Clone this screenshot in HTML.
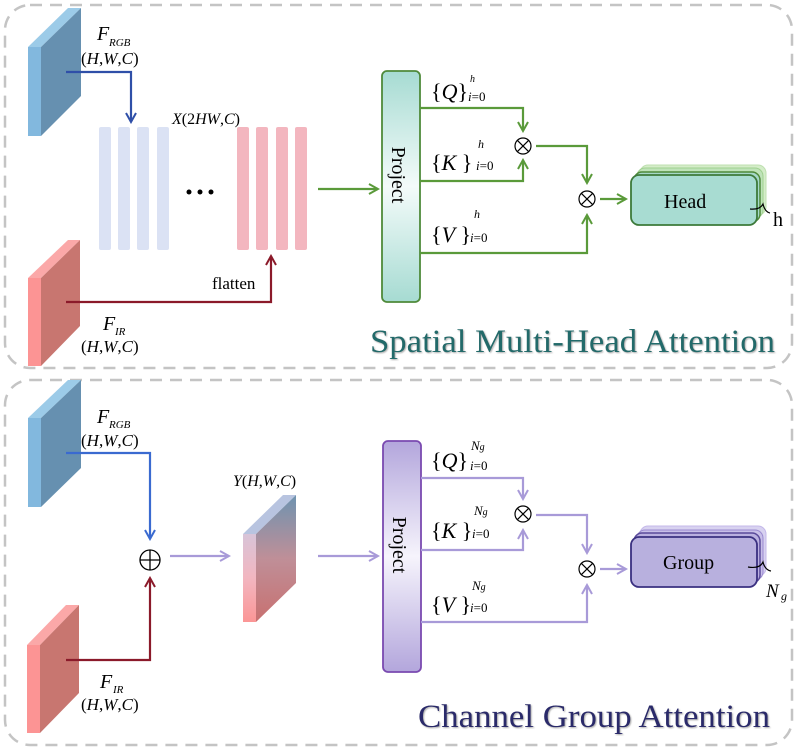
<!DOCTYPE html>
<html><head><meta charset="utf-8"><style>
body{margin:0;background:#fff}
svg{display:block}
text{font-family:"Liberation Serif",serif}
.i{font-style:italic}
</style></head><body>
<svg width="797" height="751" viewBox="0 0 797 751" xmlns="http://www.w3.org/2000/svg">
<defs>
<marker id="ab" markerWidth="12" markerHeight="12" refX="10" refY="6" orient="auto" markerUnits="userSpaceOnUse"><path d="M1,1 L10,6 L1,11" fill="none" stroke="#2f4fa8" stroke-width="2"/></marker>
<marker id="ar" markerWidth="12" markerHeight="12" refX="10" refY="6" orient="auto" markerUnits="userSpaceOnUse"><path d="M1,1 L10,6 L1,11" fill="none" stroke="#8b1a2a" stroke-width="2"/></marker>
<marker id="ag" markerWidth="12" markerHeight="12" refX="10" refY="6" orient="auto" markerUnits="userSpaceOnUse"><path d="M1,1 L10,6 L1,11" fill="none" stroke="#5a9a3a" stroke-width="2"/></marker>
<marker id="ap" markerWidth="12" markerHeight="12" refX="10" refY="6" orient="auto" markerUnits="userSpaceOnUse"><path d="M1,1 L10,6 L1,11" fill="none" stroke="#a89ad8" stroke-width="2"/></marker>
<marker id="ab2" markerWidth="12" markerHeight="12" refX="10" refY="6" orient="auto" markerUnits="userSpaceOnUse"><path d="M1,1 L10,6 L1,11" fill="none" stroke="#3a6ad0" stroke-width="2"/></marker>
<linearGradient id="pg" x1="0" y1="0" x2="0" y2="1"><stop offset="0" stop-color="#a6dbd2"/><stop offset="0.5" stop-color="#f4fbfa"/><stop offset="1" stop-color="#a6dbd2"/></linearGradient>
<linearGradient id="pp" x1="0" y1="0" x2="0" y2="1"><stop offset="0" stop-color="#b3a6dc"/><stop offset="0.5" stop-color="#f6f4fc"/><stop offset="1" stop-color="#b3a6dc"/></linearGradient>
<linearGradient id="yf" x1="0" y1="0" x2="0" y2="1"><stop offset="0" stop-color="#d8c4d8"/><stop offset="0.5" stop-color="#f2b6c0"/><stop offset="1" stop-color="#fb9696"/></linearGradient>
<linearGradient id="ys" x1="0" y1="0" x2="0" y2="1"><stop offset="0" stop-color="#6e93b0"/><stop offset="0.5" stop-color="#bf8f98"/><stop offset="1" stop-color="#c87070"/></linearGradient>
<filter id="sh"><feDropShadow dx="1" dy="1" stdDeviation="0.8" flood-color="#888" flood-opacity="0.7"/></filter>
</defs>

<rect x="5" y="5" width="787" height="363" rx="25" fill="none" stroke="#c4c4c4" stroke-width="2.5" stroke-dasharray="12,8"/>
<rect x="5" y="380" width="787" height="365" rx="25" fill="none" stroke="#c4c4c4" stroke-width="2.5" stroke-dasharray="12,8"/>

<polygon points="28,47 68,8 81,8 41,47" fill="#9ccbe8"/>
<polygon points="41,47 81,8 81,96 41,136" fill="#6690b0"/>
<rect x="28" y="47" width="13" height="89" fill="#82b8de"/>
<polygon points="28,278 68,240 80,240 41,278" fill="#fba8a8"/>
<polygon points="41,278 80,240 80,326 41,366" fill="#c87670"/>
<rect x="28" y="278" width="13" height="88" fill="#fc9494"/>
<text x="97" y="40" font-size="20" class="i">F</text><text x="109" y="46" font-size="11" class="i">RGB</text>
<text x="81" y="64" font-size="17">(<tspan class="i">H</tspan>,<tspan class="i">W</tspan>,<tspan class="i">C</tspan>)</text>
<polyline points="66,72 131,72 131,122" fill="none" stroke="#2f4fa8" stroke-width="2.2" marker-end="url(#ab)"/>
<g fill="#dbe2f4">
<rect x="99" y="127" width="12" height="123" rx="2"/><rect x="118" y="127" width="12" height="123" rx="2"/><rect x="137" y="127" width="12" height="123" rx="2"/><rect x="157" y="127" width="12" height="123" rx="2"/>
</g>
<g fill="#f3b6bf">
<rect x="237" y="127" width="12" height="123" rx="2"/><rect x="256" y="127" width="12" height="123" rx="2"/><rect x="276" y="127" width="12" height="123" rx="2"/><rect x="295" y="127" width="12" height="123" rx="2"/>
</g>
<g fill="#000"><circle cx="189" cy="192" r="2.5"/><circle cx="200" cy="192" r="2.5"/><circle cx="211" cy="192" r="2.5"/></g>
<text x="172" y="124" font-size="16"><tspan class="i">X</tspan>(2<tspan class="i">HW</tspan>,<tspan class="i">C</tspan>)</text>
<polyline points="66,302 271,302 271,256" fill="none" stroke="#8b1a2a" stroke-width="2.2" marker-end="url(#ar)"/>
<text x="212" y="289" font-size="17">flatten</text>
<text x="103" y="330" font-size="20" class="i">F</text><text x="115" y="335" font-size="11" class="i">IR</text>
<text x="81" y="352" font-size="17">(<tspan class="i">H</tspan>,<tspan class="i">W</tspan>,<tspan class="i">C</tspan>)</text>
<line x1="318" y1="189" x2="378" y2="189" stroke="#5a9a3a" stroke-width="2.2" marker-end="url(#ag)"/>
<rect x="382" y="71" width="38" height="231" rx="5" fill="url(#pg)" stroke="#4f8a3a" stroke-width="1.8"/>
<text transform="translate(392,175) rotate(90)" font-size="20" text-anchor="middle">Project</text>
<g font-size="22">
<text x="431" y="99">{<tspan class="i">Q</tspan>}</text><text x="470" y="82" font-size="10" class="i">h</text><text x="468" y="101" font-size="13"><tspan class="i">i</tspan>=0</text>
<text x="431" y="170">{<tspan class="i">K</tspan> }</text><text x="478" y="148" font-size="12" class="i">h</text><text x="476" y="170" font-size="13"><tspan class="i">i</tspan>=0</text>
<text x="431" y="242">{<tspan class="i">V</tspan> }</text><text x="474" y="218" font-size="12" class="i">h</text><text x="470" y="242" font-size="13"><tspan class="i">i</tspan>=0</text>
</g>
<g fill="none" stroke="#5a9a3a" stroke-width="2.2">
<polyline points="420,108 523,108 523,131" marker-end="url(#ag)"/>
<polyline points="420,181 523,181 523,160" marker-end="url(#ag)"/>
<polyline points="536,146 587,146 587,183" marker-end="url(#ag)"/>
<polyline points="420,253 587,253 587,215" marker-end="url(#ag)"/>
<line x1="600" y1="199" x2="626" y2="199" marker-end="url(#ag)"/>
</g>
<g fill="#fff" stroke="#000" stroke-width="1.2">
<circle cx="523" cy="146" r="8"/><path d="M517.3,140.3 L528.7,151.7 M528.7,140.3 L517.3,151.7"/>
<circle cx="587" cy="199" r="8"/><path d="M581.3,193.3 L592.7,204.7 M592.7,193.3 L581.3,204.7"/>
</g>
<rect x="640" y="165" width="126" height="50" rx="8" fill="#d4edc9" stroke="#bfe0b0"/>
<rect x="637" y="168" width="126" height="50" rx="8" fill="#bfe3b9" stroke="#9fd08f"/>
<rect x="634" y="172" width="126" height="50" rx="8" fill="#a6d8c9" stroke="#4f8a3a" stroke-width="1.5"/>
<rect x="631" y="175" width="126" height="50" rx="8" fill="#a8dcd2" stroke="#3d7a3a" stroke-width="1.8"/>
<text x="664" y="208" font-size="20">Head</text>
<path d="M750,209 Q760,210 763,204 Q765,212 770,213" fill="none" stroke="#000" stroke-width="1.2"/>
<text x="773" y="226" font-size="20">h</text>
<text x="370" y="352" font-size="33" fill="#246a6a" filter="url(#sh)" textLength="405" lengthAdjust="spacingAndGlyphs">Spatial Multi-Head Attention</text>

<polygon points="28,418 68,380 81,380 41,418" fill="#9ccbe8"/>
<polygon points="41,418 81,380 81,468 41,507" fill="#6690b0"/>
<rect x="28" y="418" width="13" height="89" fill="#82b8de"/>
<polygon points="27,645 66,605 79,605 40,645" fill="#fba8a8"/>
<polygon points="40,645 79,605 79,693 40,733" fill="#c87670"/>
<rect x="27" y="645" width="13" height="88" fill="#fc9494"/>
<text x="97" y="423" font-size="20" class="i">F</text><text x="109" y="428" font-size="11" class="i">RGB</text>
<text x="81" y="446" font-size="17">(<tspan class="i">H</tspan>,<tspan class="i">W</tspan>,<tspan class="i">C</tspan>)</text>
<polyline points="66,453 150,453 150,539" fill="none" stroke="#3a6ad0" stroke-width="2.2" marker-end="url(#ab2)"/>
<polyline points="66,660 150,660 150,578" fill="none" stroke="#8b1a2a" stroke-width="2.2" marker-end="url(#ar)"/>
<g fill="#fff" stroke="#000" stroke-width="1.3"><circle cx="150" cy="560" r="10"/><path d="M140,560 H160 M150,550 V570"/></g>
<text x="100" y="688" font-size="20" class="i">F</text><text x="113" y="693" font-size="11" class="i">IR</text>
<text x="81" y="710" font-size="17">(<tspan class="i">H</tspan>,<tspan class="i">W</tspan>,<tspan class="i">C</tspan>)</text>
<line x1="170" y1="556" x2="229" y2="556" stroke="#a89ad8" stroke-width="2.2" marker-end="url(#ap)"/>
<polygon points="243,534 283,495 296,495 256,534" fill="#b8c4e0"/>
<polygon points="256,534 296,495 296,583 256,622" fill="url(#ys)"/>
<rect x="243" y="534" width="13" height="88" fill="url(#yf)"/>
<text x="233" y="486" font-size="16"><tspan class="i">Y</tspan>(<tspan class="i">H</tspan>,<tspan class="i">W</tspan>,<tspan class="i">C</tspan>)</text>
<line x1="318" y1="556" x2="378" y2="556" stroke="#a89ad8" stroke-width="2.2" marker-end="url(#ap)"/>
<rect x="383" y="441" width="38" height="231" rx="5" fill="url(#pp)" stroke="#7a4ab0" stroke-width="1.8"/>
<text transform="translate(393,545) rotate(90)" font-size="20" text-anchor="middle">Project</text>
<g font-size="22">
<text x="431" y="468">{<tspan class="i">Q</tspan>}</text><text x="471" y="450" font-size="13" class="i">N<tspan font-size="10">g</tspan></text><text x="470" y="470" font-size="13"><tspan class="i">i</tspan>=0</text>
<text x="431" y="538">{<tspan class="i">K</tspan> }</text><text x="474" y="515" font-size="13" class="i">N<tspan font-size="10">g</tspan></text><text x="472" y="538" font-size="13"><tspan class="i">i</tspan>=0</text>
<text x="431" y="612">{<tspan class="i">V</tspan> }</text><text x="472" y="590" font-size="13" class="i">N<tspan font-size="10">g</tspan></text><text x="470" y="612" font-size="13"><tspan class="i">i</tspan>=0</text>
</g>
<g fill="none" stroke="#a89ad8" stroke-width="2.2">
<polyline points="421,478 523,478 523,499" marker-end="url(#ap)"/>
<polyline points="421,550 523,550 523,530" marker-end="url(#ap)"/>
<polyline points="536,515 587,515 587,553" marker-end="url(#ap)"/>
<polyline points="421,622 587,622 587,585" marker-end="url(#ap)"/>
<line x1="600" y1="569" x2="626" y2="569" marker-end="url(#ap)"/>
</g>
<g fill="#fff" stroke="#000" stroke-width="1.2">
<circle cx="523" cy="514" r="8"/><path d="M517.3,508.3 L528.7,519.7 M528.7,508.3 L517.3,519.7"/>
<circle cx="587" cy="569" r="8"/><path d="M581.3,563.3 L592.7,574.7 M592.7,563.3 L581.3,574.7"/>
</g>
<rect x="640" y="526" width="126" height="50" rx="8" fill="#d8d2f0" stroke="#c4b8ea"/>
<rect x="637" y="530" width="126" height="50" rx="8" fill="#c8bfe8" stroke="#9a8ad0"/>
<rect x="634" y="533" width="126" height="50" rx="8" fill="#bab0e0" stroke="#5a4a9a" stroke-width="1.5"/>
<rect x="631" y="537" width="126" height="50" rx="8" fill="#b8b0de" stroke="#3a3080" stroke-width="1.8"/>
<text x="663" y="569" font-size="20">Group</text>
<path d="M748,567 Q760,569 763,562 Q765,570 771,571" fill="none" stroke="#000" stroke-width="1.2"/>
<text x="766" y="597" font-size="19" class="i">N</text><text x="781" y="600" font-size="12" class="i">g</text>
<text x="418" y="727" font-size="33" fill="#2a2a6a" filter="url(#sh)" textLength="352" lengthAdjust="spacingAndGlyphs">Channel Group Attention</text>
</svg>
</body></html>
